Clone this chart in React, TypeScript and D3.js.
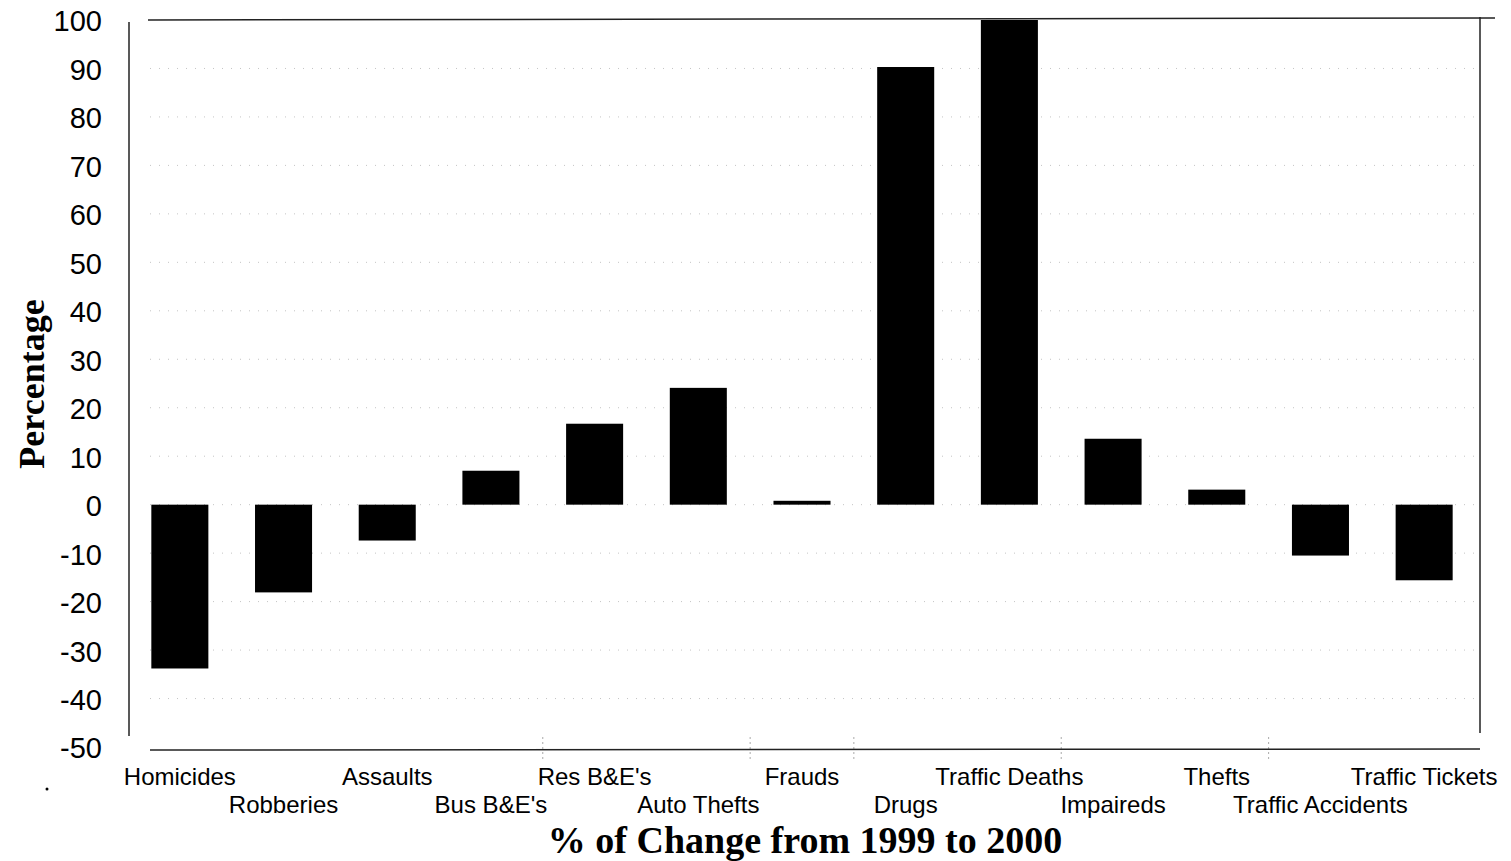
import React, { useEffect } from 'react';
import * as d3 from 'd3';

const categories = [
  'Homicides', 'Robberies', 'Assaults', "Bus B&E's", "Res B&E's", 'Auto Thefts', 'Frauds',
  'Drugs', 'Traffic Deaths', 'Impaireds', 'Thefts', 'Traffic Accidents', 'Traffic Tickets',
];
const changes = [-33.8, -18.1, -7.4, 7.0, 16.7, 24.1, 0.8, 90.3, 100, 13.6, 3.1, -10.5, -15.6];
const yTicks = [100, 90, 80, 70, 60, 50, 40, 30, 20, 10, 0, -10, -20, -30, -40, -50];
const gridValues = [90, 80, 70, 60, 50, 40, 30, 20, 10, 0, -10, -20, -30, -40];

const W = 1511;
const H = 861;

export default function App() {
  useEffect(() => {
    document.body.style.margin = '0';
  }, []);

  const x = d3.scaleBand<string>().domain(categories).range([128, 1476]).paddingInner(0.45).paddingOuter(0.225);
  const y = d3.scaleLinear().domain([-50, 100]).range([747, 20]);

  const sans = '"Liberation Sans", Arial, sans-serif';
  const serif = '"Liberation Serif", "Times New Roman", serif';
  const step = x.step();
  const start = x.range()[0];

  return (
    <svg width={W} height={H} style={{ display: 'block', background: '#fff' }}>
      {/* faint dotted gridlines */}
      {gridValues.map(v => (
        <line key={v} x1={150} x2={1476} y1={y(v)} y2={y(v)}
          stroke="#c4c4c4" strokeWidth={1} strokeDasharray="1 8" />
      ))}

      {/* faint category boundary ticks */}
      {[4, 6, 7, 9, 11].map(i => (
        <line key={i} x1={start + i * step} x2={start + i * step} y1={y(-50) - 10} y2={y(-50) + 14}
          stroke="#aaa" strokeWidth={1} strokeDasharray="2 3" />
      ))}

      {/* frame */}
      <line x1={129} x2={129} y1={y(100) + 2} y2={y(-50) - 11} stroke="#222" strokeWidth={1.5} />
      <line x1={148} x2={1495} y1={y(100)} y2={y(100) - 2} stroke="#222" strokeWidth={1.5} />
      <line x1={150} x2={1480} y1={y(-50) + 3} y2={y(-50) + 2} stroke="#222" strokeWidth={1.5} />
      <line x1={1480} x2={1480} y1={y(100) - 3} y2={y(-50) - 14} stroke="#222" strokeWidth={1.5} />

      {/* bars */}
      {categories.map((c, i) => {
        const v = changes[i];
        return (
          <rect key={c} x={x(c)} width={x.bandwidth()}
            y={y(Math.max(0, v))} height={Math.abs(y(v) - y(0))} fill="#000" />
        );
      })}

      {/* y tick labels */}
      {yTicks.map(t => (
        <text key={t} x={102} y={y(t) + 1} dy="0.36em" textAnchor="end"
          fontFamily={sans} fontSize={29} fill="#000">{t}</text>
      ))}

      {/* category labels, staggered in two rows */}
      {categories.map((c, i) => (
        <text key={c} x={(x(c) as number) + x.bandwidth() / 2} y={i % 2 === 0 ? 785 : 813}
          textAnchor="middle" fontFamily={sans} fontSize={24} fill="#000">{c}</text>
      ))}

      <circle cx={47} cy={789} r={1.5} fill="#000" />

      {/* axis titles */}
      <text transform={`translate(44,${384}) rotate(-90)`} textAnchor="middle"
        fontFamily={serif} fontWeight="bold" fontSize={36} fill="#000">Percentage</text>
      <text x={805} y={853} textAnchor="middle" fontFamily={serif} fontWeight="bold" fontSize={38} fill="#000">
        % of Change from 1999 to 2000
      </text>
    </svg>
  );
}
